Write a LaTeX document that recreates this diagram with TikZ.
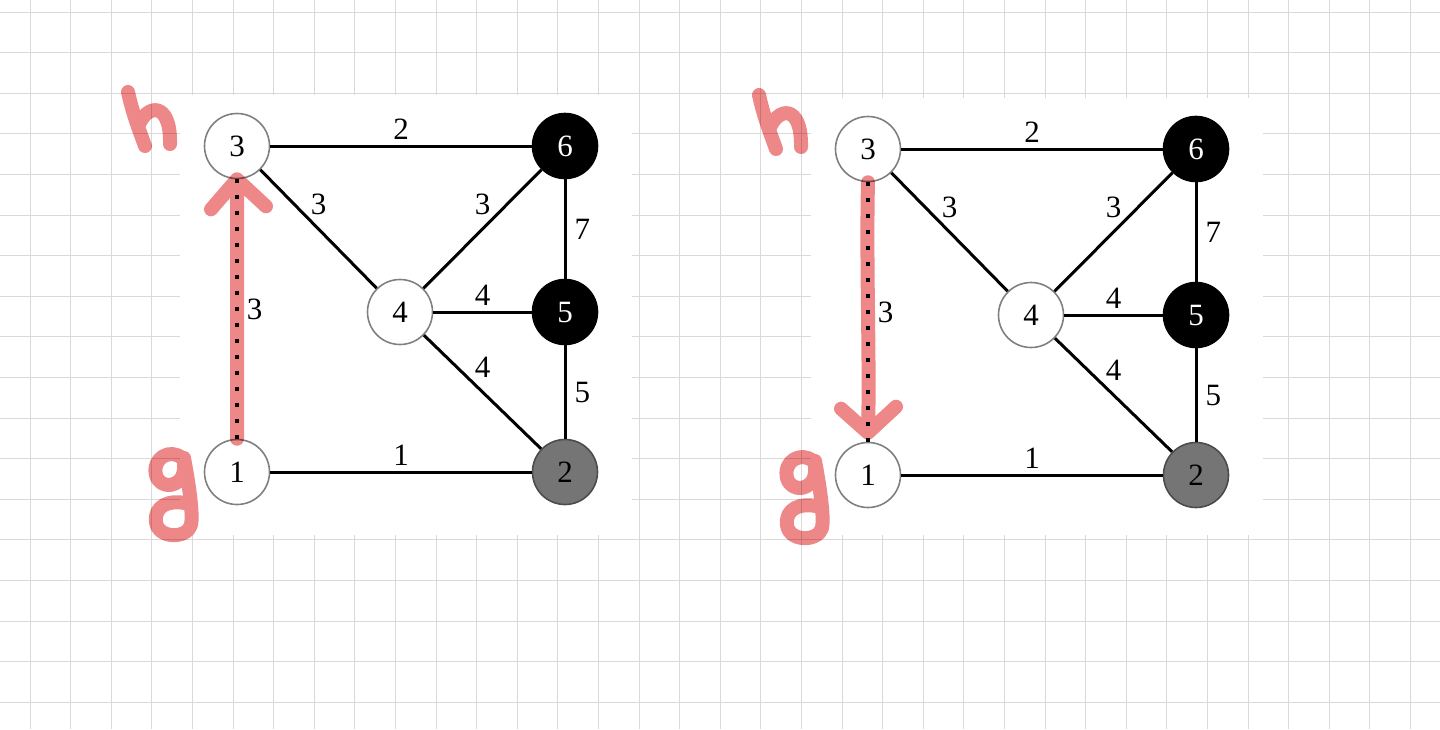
\documentclass[tikz,border=0pt]{standalone}
\usepackage{fontspec}
\setmainfont{Liberation Serif}
\definecolor{marker}{RGB}{238,135,135}
\begin{document}
\begin{tikzpicture}[x=0.5pt,y=-0.5pt,vertex/.style={circle, draw=gray, line width=0.8pt, fill=white, minimum size=32.5pt, inner sep=0pt, font=\fontsize{15.5}{18}\selectfont},full/.style={vertex, fill=black, draw=black, text=white},half/.style={vertex, fill=black!54, draw=black!70},edge/.style={line width=1.5pt},tree/.style={line width=1.8pt, dash pattern=on 1.8pt off 6.2pt},weight/.style={inner sep=2.5pt, font=\fontsize{15.5}{18}\selectfont},ink/.style={draw=marker, line width=7pt, line cap=round, line join=round},gridline/.style={gray!30, line width=0.5pt}]
\useasboundingbox (0,0) rectangle (1440,729); \fill[white] (0,0) rectangle (1440,729);
\foreach \i in {0,...,34} \draw[gridline] ({30+40.6*\i},0) -- ({30+40.6*\i},729);
\foreach \j in {0,...,17} \draw[gridline] (0,{12+40.6*\j}) -- (1440,{12+40.6*\j});
\begin{scope}
\fill[white] (180,95) rectangle (632,535);
\node[vertex] (l3) at (237,146) {3}; \node[full] (l6) at (565,146) {6}; \node[vertex] (l4) at (400,312) {4};
\node[full] (l5) at (565,312) {5}; \node[vertex] (l1) at (237,472) {1}; \node[half] (l2) at (565,472) {2};
\draw[edge] (l3) -- node[weight, above] {2} (l6); \draw[edge] (l3) -- node[weight, above=4pt] {3} (l4); \draw[edge] (l4) -- node[weight, above=4pt] {3} (l6);
\draw[edge] (l4) -- node[weight, above] {4} (l5); \draw[edge] (l4) -- node[weight, above=4pt] {4} (l2); \draw[edge] (l1) -- node[weight, above] {1} (l2);
\draw[edge] (l6) -- node[weight, right=1.5pt] {7} (l5); \draw[edge] (l5) -- node[weight, right=1.5pt] {5} (l2); \draw[tree] (l1) -- node[weight, right=1.5pt] {3} (l3);
\begin{scope}[blend mode=multiply]
% path back up to h, then the arrow head
\draw[ink] (l1.north) -- (l3.south) ([shift={(-26,30)}]l3.south) -- (l3.south) -- ++(29,27);
\draw[ink] (128,92) .. controls (133,115) and (140,132) .. (145,146) (138,127) .. controls (146,104) and (171,100) .. (170,144);
\draw[ink] (182,458) .. controls (170,448) and (152,458) .. (156,475) .. controls (160,490) and (182,488) .. (184,470) -- (184,458) .. controls (190,490) and (193,515) .. (191,525) .. controls (187,539) and (158,539) .. (156,522) .. controls (154,505) and (170,500) .. (185,503);
\end{scope}
\end{scope}
\begin{scope}[shift={(631,3)}]
\fill[white] (180,95) rectangle (632,532);
\node[vertex] (r3) at (237,146) {3}; \node[full] (r6) at (565,146) {6}; \node[vertex] (r4) at (400,312) {4};
\node[full] (r5) at (565,312) {5}; \node[vertex] (r1) at (237,472) {1}; \node[half] (r2) at (565,472) {2};
\draw[edge] (r3) -- node[weight, above] {2} (r6); \draw[edge] (r3) -- node[weight, above=4pt] {3} (r4); \draw[edge] (r4) -- node[weight, above=4pt] {3} (r6);
\draw[edge] (r4) -- node[weight, above] {4} (r5); \draw[edge] (r4) -- node[weight, above=4pt] {4} (r2); \draw[edge] (r1) -- node[weight, above] {1} (r2);
\draw[edge] (r6) -- node[weight, right=1.5pt] {7} (r5); \draw[edge] (r5) -- node[weight, right=1.5pt] {5} (r2); \draw[tree] (r1) -- node[weight, right=1.5pt] {3} (r3);
\begin{scope}[blend mode=multiply]
% path back down to g, then the arrow head
\coordinate (tip) at ([yshift=4.5pt]r1.north);
\draw[ink] (r3.south) .. controls (235,260) and (239,360) .. (tip) ([shift={(-27,-24)}]tip) -- (tip) -- ++(28,-26);
\draw[ink] (128,92) .. controls (133,115) and (140,132) .. (145,146) (138,127) .. controls (146,104) and (171,100) .. (170,144);
\draw[ink] (182,458) .. controls (170,448) and (152,458) .. (156,475) .. controls (160,490) and (182,488) .. (184,470) -- (184,458) .. controls (190,490) and (193,515) .. (191,525) .. controls (187,539) and (158,539) .. (156,522) .. controls (154,505) and (170,500) .. (185,503);
\end{scope}
\end{scope}
\end{tikzpicture}
\end{document}
